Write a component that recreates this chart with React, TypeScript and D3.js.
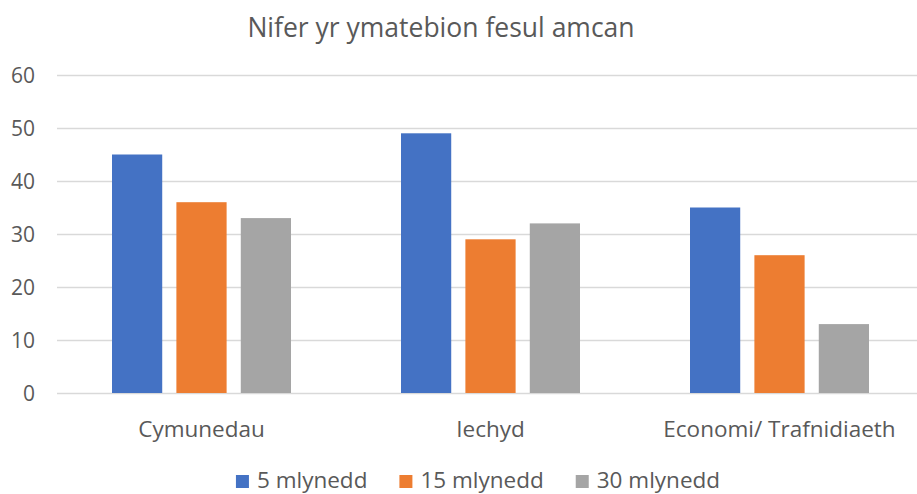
import { useEffect, useRef } from 'react';
import * as d3 from 'd3';

const categories = ['Cymunedau', 'Iechyd', 'Economi/ Trafnidiaeth'];
const seriesNames = ['5 mlynedd', '15 mlynedd', '30 mlynedd'];
const seriesColors = ['#4472C4', '#ED7D31', '#A5A5A5'];
const fiveYears = [45, 49, 35];
const fifteenYears = [36, 29, 26];
const thirtyYears = [33, 32, 13];
const yTicks = [0, 10, 20, 30, 40, 50, 60];

const W = 917;
const H = 494;
const font = '"Open Sans", "Noto Sans", sans-serif';
const textColor = '#595959';

export default function App() {
  const svgRef = useRef<SVGSVGElement>(null);

  useEffect(() => {
    document.body.style.margin = '0';
    if (!svgRef.current) return;
    const svg = d3.select(svgRef.current);
    svg.selectAll('*').remove();

    const values = [fiveYears, fifteenYears, thirtyYears];
    const plot = { left: 57, right: 924, top: 75, bottom: 393 };

    const y = d3.scaleLinear().domain([0, 60]).range([plot.bottom, plot.top]);
    const x0 = d3.scaleBand<string>().domain(categories).range([plot.left, plot.right]);
    const groupW = 179;
    const x1 = d3.scaleBand<string>().domain(seriesNames).range([0, groupW]).paddingInner(0.22);

    // title
    svg.append('text')
      .attr('x', 441).attr('y', 37)
      .attr('text-anchor', 'middle')
      .attr('font-family', font).attr('font-size', 26.5)
      .attr('fill', textColor)
      .text('Nifer yr ymatebion fesul amcan');

    // gridlines
    svg.append('g').selectAll('line')
      .data(yTicks)
      .join('line')
      .attr('x1', plot.left).attr('x2', plot.right)
      .attr('y1', (d) => Math.round(y(d)) + 0.5).attr('y2', (d) => Math.round(y(d)) + 0.5)
      .attr('stroke', '#D9D9D9').attr('stroke-width', 1.5);

    // y labels
    svg.append('g').selectAll('text')
      .data(yTicks)
      .join('text')
      .attr('x', 35).attr('y', (d) => y(d))
      .attr('dy', '0.36em')
      .attr('text-anchor', 'end')
      .attr('font-family', font).attr('font-size', 21)
      .attr('fill', textColor)
      .text((d) => d);

    // bars
    const groups = svg.append('g').selectAll('g')
      .data(categories)
      .join('g')
      .attr('transform', (c) => `translate(${x0(c)! + (x0.bandwidth() - groupW) / 2},0)`);

    groups.selectAll('rect')
      .data((c) => seriesNames.map((s, si) => ({ s, si, v: values[si][categories.indexOf(c)] })))
      .join('rect')
      .attr('x', (d) => x1(d.s)!)
      .attr('width', x1.bandwidth())
      .attr('y', (d) => y(d.v))
      .attr('height', (d) => y(0) - y(d.v))
      .attr('fill', (d) => seriesColors[d.si]);

    // category labels
    svg.append('g').selectAll('text')
      .data(categories)
      .join('text')
      .attr('x', (c) => x0(c)! + x0.bandwidth() / 2)
      .attr('y', 437)
      .attr('text-anchor', 'middle')
      .attr('font-family', font).attr('font-size', 22.5)
      .attr('fill', textColor)
      .text((c) => c);

    // legend — measured, centred under the chart
    const sw = 13, swGap = 8, itemGap = 32;
    const lg = svg.append('g');
    const items = lg.selectAll('g')
      .data(seriesNames)
      .join('g');
    items.append('rect')
      .attr('x', 0).attr('y', 475).attr('width', sw).attr('height', sw)
      .attr('fill', (_, i) => seriesColors[i]);
    const texts = items.append('text')
      .attr('x', sw + swGap).attr('y', 488)
      .attr('font-family', font).attr('font-size', 22.5)
      .attr('fill', textColor)
      .text((d) => d);
    const widths = texts.nodes().map((n) => (n as SVGTextElement).getComputedTextLength());
    const total = d3.sum(widths) + seriesNames.length * (sw + swGap) + (seriesNames.length - 1) * itemGap;
    let cx = 478 - total / 2;
    items.each(function (_, i) {
      d3.select(this).attr('transform', `translate(${cx},0)`);
      cx += sw + swGap + widths[i] + itemGap;
    });
  }, []);

  return <svg ref={svgRef} width={W} height={H} style={{ display: 'block', background: '#fff' }} />;
}
